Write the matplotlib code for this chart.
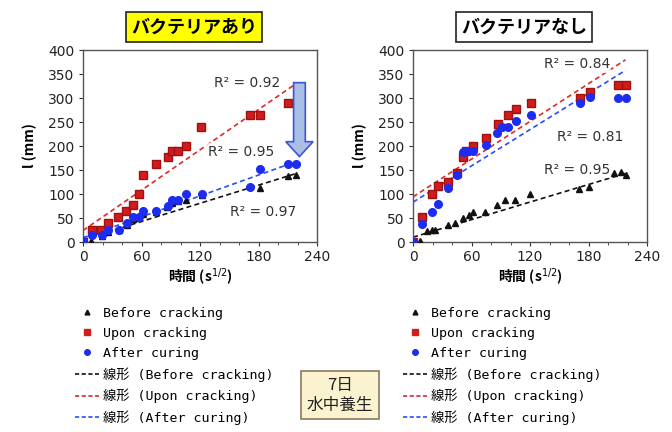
import numpy as np
import matplotlib
matplotlib.use("Agg")
import matplotlib.pyplot as plt
from matplotlib.patches import FancyArrow
from matplotlib.lines import Line2D

plt.rcParams['font.family'] = ['DejaVu Sans', 'Noto Sans CJK JP']

# ---- data ----
# left panel: with bacteria
L_before_x = [0, 8, 19, 26, 37, 45, 51, 57, 62, 75, 86, 91, 97, 106, 122, 182, 210, 218]
L_before_y = [0, 3, 12, 20, 25, 36, 48, 50, 58, 62, 72, 82, 86, 88, 98, 113, 138, 140]
L_upon_x = [0, 9, 18, 26, 36, 44, 51, 57, 62, 75, 87, 91, 97, 106, 121, 171, 182, 210]
L_upon_y = [0, 24, 25, 40, 52, 65, 77, 101, 139, 163, 177, 190, 190, 200, 240, 264, 264, 289]
L_after_x = [0, 9, 19, 26, 37, 45, 51, 57, 62, 75, 87, 91, 97, 106, 122, 171, 182, 210, 218]
L_after_y = [2, 14, 14, 24, 26, 40, 52, 52, 64, 64, 75, 87, 87, 101, 101, 115, 153, 163, 163]

# right panel: without bacteria
R_before_x = [0, 7, 14, 19, 23, 36, 43, 51, 57, 62, 74, 86, 94, 105, 120, 170, 180, 206, 213, 218]
R_before_y = [0, 2, 22, 26, 25, 36, 40, 50, 56, 62, 63, 77, 87, 87, 99, 111, 115, 143, 146, 139]
R_upon_x = [0, 9, 19, 26, 36, 45, 51, 54, 62, 75, 87, 97, 106, 121, 171, 182, 210, 218]
R_upon_y = [0, 52, 101, 117, 125, 143, 177, 190, 200, 216, 246, 264, 278, 289, 299, 313, 327, 327]
R_after_x = [0, 9, 19, 26, 36, 45, 51, 56, 62, 75, 86, 91, 97, 106, 121, 171, 182, 210, 218]
R_after_y = [0, 38, 63, 79, 113, 139, 188, 190, 190, 202, 227, 239, 239, 253, 264, 289, 303, 301, 301]

# linear trend lines (intercept, slope) and R2 labels
L_fit = {"before": (5, 0.63), "upon": (24, 1.40), "after": (9, 0.725)}
R_fit = {"before": (10, 0.61), "upon": (94, 1.31), "after": (83, 1.26)}
L_r2 = [("R² = 0.92", 134, 332), ("R² = 0.95", 128, 188), ("R² = 0.97", 151, 63)]
R_r2 = [("R² = 0.84", 134, 370), ("R² = 0.81", 148, 219), ("R² = 0.95", 134, 150)]

x_ticks = [0, 60, 120, 180, 240]
y_ticks = [0, 50, 100, 150, 200, 250, 300, 350, 400]

C_BLACK = "#111111"
C_RED = "#d01c1c"
C_BLUE = "#1c2cf0"

fig = plt.figure(figsize=(6.72, 4.32), dpi=100)
axL = fig.add_axes([83 / 672, 1 - 242 / 432, 234 / 672, 192 / 432])
axR = fig.add_axes([413 / 672, 1 - 242 / 432, 234 / 672, 192 / 432])


def draw_panel(ax, bx, by, ux, uy, ax_x, ay, fit, r2):
    x_end = 218
    xs = np.array([0, x_end])
    for key, col in [("before", C_BLACK), ("upon", "#dd2a2a"), ("after", "#2a4cff")]:
        b, m = fit[key]
        ax.plot(xs, b + m * xs, ls=(0, (3, 2)), color=col, lw=1.2, zorder=2)
    ax.plot(bx, by, "^", color=C_BLACK, ms=4, zorder=3)
    ax.plot(ux, uy, "s", color=C_RED, mec="#a01010", ms=5.5, zorder=3)
    ax.plot(ax_x, ay, "o", color=C_BLUE, ms=5.5, zorder=4)
    for txt, tx, ty in r2:
        ax.text(tx, ty, txt, fontsize=10, color="#333333", va="center", ha="left",
                family="DejaVu Sans",
                bbox=dict(facecolor="white", edgecolor="none", alpha=0.8, pad=1), zorder=5)
    ax.set_xlim(0, 240)
    ax.set_ylim(0, 400)
    ax.set_xticks(x_ticks)
    ax.set_xticks(np.arange(0, 241, 20), minor=True)
    ax.set_yticks(y_ticks)
    ax.tick_params(axis="both", direction="out", labelsize=10, length=3, color="#333333",
                   labelcolor="#222222", pad=3)
    ax.tick_params(axis="x", which="minor", direction="out", length=2, color="#333333")
    for sp in ax.spines.values():
        sp.set_color("#555555")
        sp.set_linewidth(1.0)
    ax.set_xlabel("時間 (s$^{1/2}$)", fontsize=10, fontweight="bold",
                  family=["Noto Sans CJK JP", "DejaVu Sans"], labelpad=2)
    ax.set_ylabel("l (mm)", fontsize=10, fontweight="bold",
                  family=["Noto Sans CJK JP", "DejaVu Sans"], labelpad=8)


draw_panel(axL, L_before_x, L_before_y, L_upon_x, L_upon_y, L_after_x, L_after_y, L_fit, L_r2)
draw_panel(axR, R_before_x, R_before_y, R_upon_x, R_upon_y, R_after_x, R_after_y, R_fit, R_r2)

# arrow in the left panel
arrow = FancyArrow(222, 332, 0, -154, width=12, head_width=28, head_length=31,
                   length_includes_head=True, facecolor="#a9bfe6", edgecolor="#3a55d8",
                   lw=1.2, zorder=6)
axL.add_patch(arrow)

# panel titles
fig.text(194 / 672, 1 - 27 / 432, "バクテリアあり", ha="center", va="center", fontsize=13,
         fontweight="bold", family=["Noto Sans CJK JP"],
         bbox=dict(facecolor="#ffff00", edgecolor="#222222", lw=1.2, boxstyle="square,pad=0.3"))
fig.text(524 / 672, 1 - 27 / 432, "バクテリアなし", ha="center", va="center", fontsize=13,
         fontweight="bold", family=["Noto Sans CJK JP"],
         bbox=dict(facecolor="white", edgecolor="#222222", lw=1.2, boxstyle="square,pad=0.3"))

# legends
handles = [
    Line2D([], [], ls="none", marker="^", color=C_BLACK, ms=3.5),
    Line2D([], [], ls="none", marker="s", color=C_RED, ms=4),
    Line2D([], [], ls="none", marker="o", color=C_BLUE, ms=4),
    Line2D([], [], ls=(0, (2.5, 1.5)), color=C_BLACK, lw=1.2),
    Line2D([], [], ls=(0, (2.5, 1.5)), color="#dd2a2a", lw=1.2),
    Line2D([], [], ls=(0, (2.5, 1.5)), color="#2a4cff", lw=1.2),
]
labels = ["Before cracking", "Upon cracking", "After curing",
          "線形 (Before cracking)", "線形 (Upon cracking)", "線形 (After curing)"]
for x0 in [75 / 672, 403 / 672]:
    fig.legend(handles, labels, loc="upper left", bbox_to_anchor=(x0, 1 - 307 / 432),
               frameon=False, handlelength=1.8, handletextpad=0.3, labelspacing=0.53,
               borderaxespad=0, borderpad=0,
               prop={"family": ["DejaVu Sans Mono", "Noto Sans CJK JP"], "size": 9.5})

fig.text(340 / 672, 1 - 395 / 432, "7日\n水中養生", ha="center", va="center", fontsize=12,
         family=["Noto Sans CJK JP"], linespacing=1.2, color="#222222",
         bbox=dict(facecolor="#fbf3d0", edgecolor="#8a7a60", lw=1.2, boxstyle="square,pad=0.35"))

fig.savefig("out.png", dpi=100)
